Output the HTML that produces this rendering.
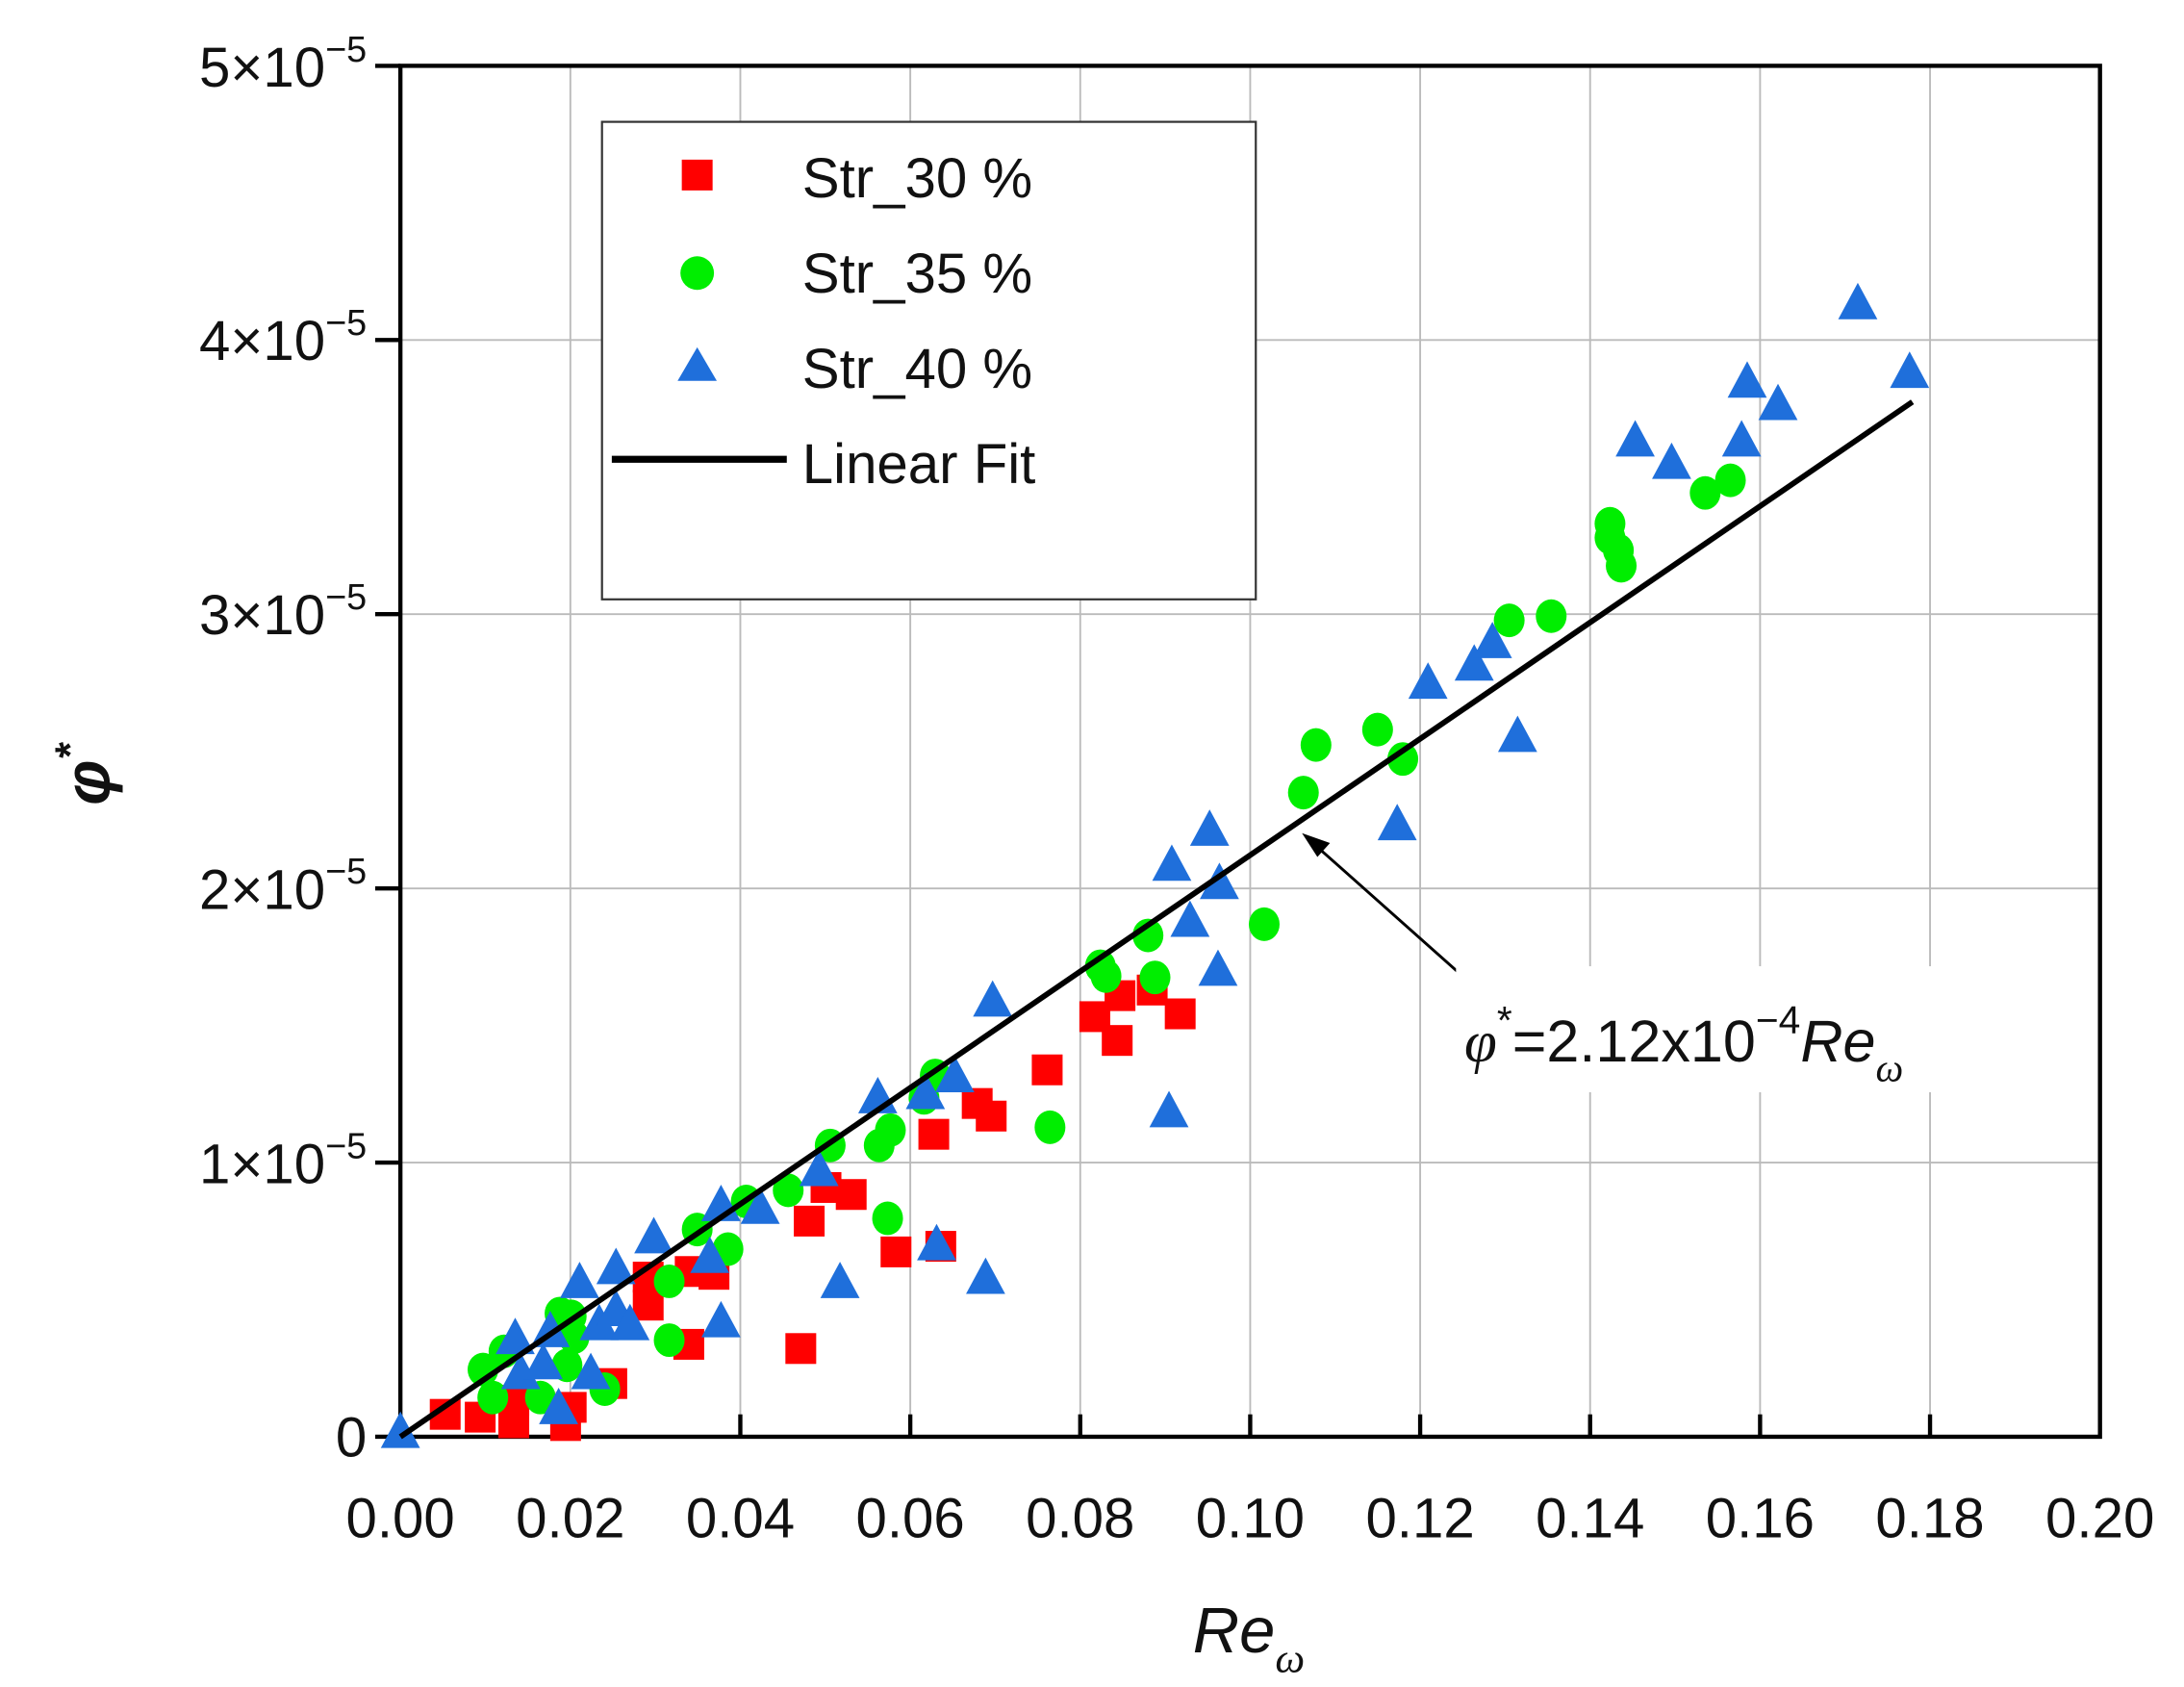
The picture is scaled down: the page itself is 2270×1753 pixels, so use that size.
<!DOCTYPE html>
<html><head><meta charset="utf-8"><style>
html,body{margin:0;padding:0;background:#fff}
svg{display:block}
text{font-family:"Liberation Sans",sans-serif}
</style></head><body>
<svg width="2270" height="1753" viewBox="0 0 1560 1204.7" preserveAspectRatio="none" xmlns="http://www.w3.org/2000/svg">
<defs>
<symbol id="sq" overflow="visible"><rect x="-11" y="-11" width="22" height="22" fill="#ff0000"/></symbol>
<symbol id="ci" overflow="visible"><ellipse cx="0" cy="0" rx="11" ry="12" fill="#00ee00"/></symbol>
<symbol id="tr" overflow="visible"><polygon points="0,-14 14,12 -14,12" fill="#1f6fdb"/></symbol>
</defs>
<g stroke="#bbb" stroke-width="1.3">
<line x1="407.4" y1="47" x2="407.4" y2="1026"/><line x1="528.8" y1="47" x2="528.8" y2="1026"/>
<line x1="650.2" y1="47" x2="650.2" y2="1026"/><line x1="771.6" y1="47" x2="771.6" y2="1026"/>
<line x1="893" y1="47" x2="893" y2="1026"/><line x1="1014.4" y1="47" x2="1014.4" y2="1026"/>
<line x1="1135.8" y1="47" x2="1135.8" y2="1026"/><line x1="1257.2" y1="47" x2="1257.2" y2="1026"/>
<line x1="1378.6" y1="47" x2="1378.6" y2="1026"/>
<line x1="286" y1="830.2" x2="1500" y2="830.2"/><line x1="286" y1="634.4" x2="1500" y2="634.4"/>
<line x1="286" y1="438.6" x2="1500" y2="438.6"/><line x1="286" y1="242.8" x2="1500" y2="242.8"/>
</g>
<rect x="286" y="47" width="1214" height="979" fill="none" stroke="#000" stroke-width="3"/>
<g stroke="#000" stroke-width="3">
<line x1="268" y1="1026" x2="286" y2="1026"/><line x1="268" y1="830.2" x2="286" y2="830.2"/><line x1="268" y1="634.4" x2="286" y2="634.4"/><line x1="268" y1="438.6" x2="286" y2="438.6"/><line x1="268" y1="242.8" x2="286" y2="242.8"/><line x1="268" y1="47" x2="286" y2="47"/>
<line x1="407.4" y1="1026" x2="407.4" y2="1010"/><line x1="528.8" y1="1026" x2="528.8" y2="1010"/><line x1="650.2" y1="1026" x2="650.2" y2="1010"/><line x1="771.6" y1="1026" x2="771.6" y2="1010"/><line x1="893" y1="1026" x2="893" y2="1010"/><line x1="1014.4" y1="1026" x2="1014.4" y2="1010"/><line x1="1135.8" y1="1026" x2="1135.8" y2="1010"/><line x1="1257.2" y1="1026" x2="1257.2" y2="1010"/><line x1="1378.6" y1="1026" x2="1378.6" y2="1010"/>
</g>
<g font-size="40" text-anchor="end" fill="#111">
<text x="262" y="1040">0</text>
<text x="262" y="845">1×10<tspan dy="-18" font-size="26">−5</tspan></text>
<text x="262" y="649">2×10<tspan dy="-18" font-size="26">−5</tspan></text>
<text x="262" y="453">3×10<tspan dy="-18" font-size="26">−5</tspan></text>
<text x="262" y="257">4×10<tspan dy="-18" font-size="26">−5</tspan></text>
<text x="262" y="62">5×10<tspan dy="-18" font-size="26">−5</tspan></text>
</g>
<g font-size="40" text-anchor="middle" fill="#111">
<text x="286" y="1098">0.00</text><text x="407.4" y="1098">0.02</text><text x="528.8" y="1098">0.04</text><text x="650.2" y="1098">0.06</text><text x="771.6" y="1098">0.08</text><text x="893" y="1098">0.10</text><text x="1014.4" y="1098">0.12</text><text x="1135.8" y="1098">0.14</text><text x="1257.2" y="1098">0.16</text><text x="1378.6" y="1098">0.18</text><text x="1500" y="1098">0.20</text>
</g>
<text x="852" y="1180" font-size="46" font-style="italic" fill="#111">Re<tspan dy="14" font-size="30" font-family="Liberation Serif">ω</tspan></text>
<text transform="translate(78,575) rotate(-90)" font-size="46" font-style="italic" font-weight="bold" fill="#111">φ<tspan dy="-18" font-size="30">*</tspan></text>
<g>
<use href="#sq" x="318" y="1010"/><use href="#sq" x="343" y="1012"/><use href="#sq" x="367" y="1016"/><use href="#sq" x="367" y="1000"/><use href="#sq" x="404" y="1018"/><use href="#sq" x="408" y="1005"/><use href="#sq" x="437" y="988"/><use href="#sq" x="463" y="932"/><use href="#sq" x="463" y="912"/><use href="#sq" x="492" y="960"/><use href="#sq" x="493" y="908"/><use href="#sq" x="510" y="910"/><use href="#sq" x="572" y="963"/><use href="#sq" x="578" y="872"/><use href="#sq" x="590" y="848"/><use href="#sq" x="608" y="853"/><use href="#sq" x="640" y="894"/><use href="#sq" x="667" y="810"/><use href="#sq" x="672" y="890"/><use href="#sq" x="698" y="788"/><use href="#sq" x="708" y="797"/><use href="#sq" x="748" y="764"/><use href="#sq" x="782" y="726"/><use href="#sq" x="798" y="743"/><use href="#sq" x="800" y="711"/><use href="#sq" x="823" y="707"/><use href="#sq" x="843" y="724"/>
</g>
<g>
<use href="#ci" x="345" y="978"/><use href="#ci" x="352" y="998"/><use href="#ci" x="360" y="965"/><use href="#ci" x="386" y="998"/><use href="#ci" x="400" y="938"/><use href="#ci" x="405" y="975"/><use href="#ci" x="410" y="955"/><use href="#ci" x="408" y="940"/><use href="#ci" x="432" y="992"/><use href="#ci" x="478" y="915"/><use href="#ci" x="478" y="957"/><use href="#ci" x="498" y="878"/><use href="#ci" x="520" y="892"/><use href="#ci" x="533" y="858"/><use href="#ci" x="563" y="850"/><use href="#ci" x="593" y="818"/><use href="#ci" x="628" y="818"/><use href="#ci" x="636" y="807"/><use href="#ci" x="634" y="870"/><use href="#ci" x="660" y="784"/><use href="#ci" x="668" y="768"/><use href="#ci" x="750" y="805"/><use href="#ci" x="786" y="690"/><use href="#ci" x="790" y="697"/><use href="#ci" x="820" y="668"/><use href="#ci" x="825" y="698"/><use href="#ci" x="903" y="660"/><use href="#ci" x="931" y="566"/><use href="#ci" x="940" y="532"/><use href="#ci" x="984" y="521"/><use href="#ci" x="1002" y="542"/><use href="#ci" x="1078" y="443"/><use href="#ci" x="1108" y="440"/><use href="#ci" x="1150" y="374"/><use href="#ci" x="1150" y="384"/><use href="#ci" x="1156" y="393"/><use href="#ci" x="1158" y="404"/><use href="#ci" x="1218" y="352"/><use href="#ci" x="1236" y="343"/>
</g>
<g>
<use href="#tr" x="286" y="1022"/><use href="#tr" x="368" y="955"/><use href="#tr" x="372" y="980"/><use href="#tr" x="388" y="973"/><use href="#tr" x="393" y="950"/><use href="#tr" x="399" y="1005"/><use href="#tr" x="414" y="915"/><use href="#tr" x="422" y="980"/><use href="#tr" x="428" y="945"/><use href="#tr" x="440" y="905"/><use href="#tr" x="440" y="935"/><use href="#tr" x="450" y="945"/><use href="#tr" x="467" y="883"/><use href="#tr" x="507" y="897"/><use href="#tr" x="515" y="860"/><use href="#tr" x="515" y="943"/><use href="#tr" x="543" y="862"/><use href="#tr" x="585" y="835"/><use href="#tr" x="600" y="915"/><use href="#tr" x="627" y="783"/><use href="#tr" x="661" y="780"/><use href="#tr" x="669" y="888"/><use href="#tr" x="682" y="768"/><use href="#tr" x="704" y="912"/><use href="#tr" x="709" y="714"/><use href="#tr" x="835" y="793"/><use href="#tr" x="837" y="617"/><use href="#tr" x="850" y="657"/><use href="#tr" x="864" y="592"/><use href="#tr" x="870" y="692"/><use href="#tr" x="871" y="630"/><use href="#tr" x="998" y="588"/><use href="#tr" x="1020" y="487"/><use href="#tr" x="1053" y="474"/><use href="#tr" x="1066" y="458"/><use href="#tr" x="1084" y="525"/><use href="#tr" x="1168" y="314"/><use href="#tr" x="1194" y="330"/><use href="#tr" x="1244" y="314"/><use href="#tr" x="1248" y="272"/><use href="#tr" x="1270" y="288"/><use href="#tr" x="1327" y="216"/><use href="#tr" x="1364" y="265"/>
</g>
<line x1="286" y1="1026" x2="1366" y2="287" stroke="#000" stroke-width="4"/>
<line x1="1048" y1="700" x2="940" y2="604" stroke="#000" stroke-width="2"/>
<polygon points="930,595 950,602 941,612" fill="#000"/>
<rect x="1040" y="690" width="390" height="90" fill="#fff"/>
<text x="1046" y="758" font-size="42" fill="#111"><tspan font-style="italic" font-family="Liberation Serif">φ</tspan><tspan dy="-20" font-size="28">*</tspan><tspan dy="20">=2.12x10</tspan><tspan dy="-20" font-size="28">−4</tspan><tspan dy="20" font-style="italic">Re</tspan><tspan dy="14" font-size="28" font-style="italic" font-family="Liberation Serif">ω</tspan></text>
<rect x="430" y="87" width="467" height="341" fill="#fff" stroke="#333" stroke-width="1.5"/>
<rect x="487" y="114" width="22" height="22" fill="#ff0000"/>
<circle cx="498" cy="195" r="12" fill="#00ee00"/>
<polygon points="498,248 512,272 484,272" fill="#1f6fdb"/>
<line x1="437" y1="328" x2="562" y2="328" stroke="#000" stroke-width="5"/>
<g font-size="40" fill="#111">
<text x="573" y="141">Str_30 %</text><text x="573" y="209">Str_35 %</text><text x="573" y="277">Str_40 %</text><text x="573" y="345">Linear Fit</text>
</g>
</svg>
</body></html>
